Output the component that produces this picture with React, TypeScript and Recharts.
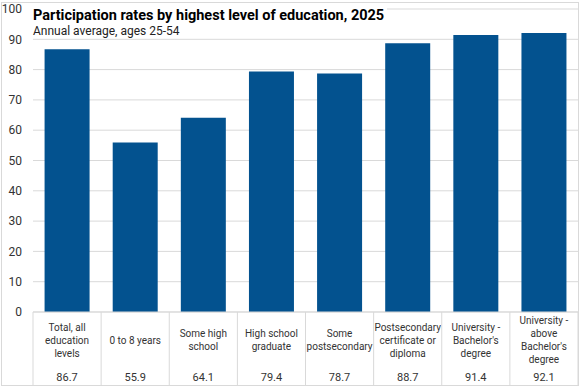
import React from "react";
import { Bar, BarChart, CartesianGrid, XAxis, YAxis } from "recharts";

const categories = [
  "Total, all education levels",
  "0 to 8 years",
  "Some high school",
  "High school graduate",
  "Some postsecondary",
  "Postsecondary certificate or diploma",
  "University - Bachelor's degree",
  "University - above Bachelor's degree",
];

const labelLines = [
  ["Total, all", "education", "levels"],
  ["0 to 8 years"],
  ["Some high", "school"],
  ["High school", "graduate"],
  ["Some", "postsecondary"],
  ["Postsecondary", "certificate or", "diploma"],
  ["University -", "Bachelor's", "degree"],
  ["University -", "above", "Bachelor's", "degree"],
];

const rates = [86.7, 55.9, 64.1, 79.4, 78.7, 88.7, 91.4, 92.1];

const yTicks = [0, 10, 20, 30, 40, 50, 60, 70, 80, 90, 100];

const data = categories.map((category, i) => ({ category, rate: rates[i] }));

const W = 581;
const H = 388;
const PLOT_LEFT = 33;
const PLOT_RIGHT = 578;
const BAND = (PLOT_RIGHT - PLOT_LEFT) / categories.length;
const TABLE_H = 74;
const FONT = "Roboto, 'Noto Sans', sans-serif";
const GRID = "#d9d9d9";

function TableTick(props: any) {
  const { x, y, payload } = props;
  const i = categories.indexOf(payload.value);
  const lines = labelLines[i] ?? [];
  const left = x - BAND / 2;
  const right = x + BAND / 2;
  const lh = 13;
  const top = y + 28 - ((lines.length - 1) * lh) / 2;
  return (
    <g>
      <line x1={left} y1={y} x2={left} y2={y + TABLE_H} stroke={GRID} />
      {i === categories.length - 1 && (
        <line x1={right} y1={y} x2={right} y2={y + TABLE_H} stroke={GRID} />
      )}
      <line x1={left} y1={y + TABLE_H - 0.5} x2={right} y2={y + TABLE_H - 0.5} stroke={GRID} />
      {lines.map((l, k) => (
        <text
          key={k}
          x={x}
          y={top + k * lh}
          textAnchor="middle"
          dominantBaseline="central"
          fontSize={10}
          fontFamily={FONT}
          fill="#333"
        >
          {l}
        </text>
      ))}
      <text
        x={x}
        y={y + 65}
        textAnchor="middle"
        dominantBaseline="central"
        fontSize={11}
        fontFamily={FONT}
        fill="#333"
      >
        {rates[i].toFixed(1)}
      </text>
    </g>
  );
}

export default function App() {
  return (
    <div style={{ position: "absolute", left: 0, top: 0, width: W, height: H, background: "#fff" }}>
      <div
        style={{
          position: "absolute",
          left: 1,
          top: 2,
          width: 578,
          height: 384,
          border: `1px solid ${GRID}`,
          boxSizing: "border-box",
        }}
      />
      <div style={{ position: "absolute", left: 0, top: 0 }}>
        <BarChart
          width={W}
          height={H}
          data={data}
          margin={{ top: 9, right: W - PLOT_RIGHT, left: 0, bottom: 2 }}
          barCategoryGap="17%"
        >
          <CartesianGrid stroke={GRID} vertical={false} />
          <XAxis
            dataKey="category"
            height={TABLE_H}
            interval={0}
            tickLine={false}
            tickSize={0}
            tickMargin={0}
            axisLine={{ stroke: GRID }}
            tick={<TableTick />}
          />
          <YAxis
            width={PLOT_LEFT}
            domain={[0, 100]}
            ticks={yTicks}
            interval={0}
            axisLine={false}
            tickLine={false}
            tickSize={0}
            tickMargin={11}
            tick={{ fontSize: 12, fontFamily: FONT, fill: "#333" }}
          />
          <Bar dataKey="rate" fill="#03528f" isAnimationActive={false} />
        </BarChart>
      </div>
      <div
        style={{
          position: "absolute",
          left: 33,
          top: 7,
          background: "#fff",
          paddingRight: 3,
          fontFamily: FONT,
          color: "#000",
        }}
      >
        <div style={{ fontSize: 14.5, fontWeight: 700, lineHeight: "18px" }}>
          Participation rates by highest level of education, 2025
        </div>
        <div style={{ fontSize: 12, lineHeight: "13px", color: "#222" }}>
          Annual average, ages 25-54
        </div>
      </div>
    </div>
  );
}
